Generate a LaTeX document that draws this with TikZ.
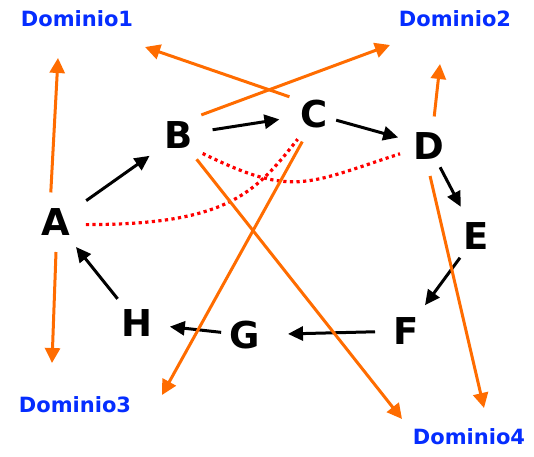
\documentclass[tikz,border=0pt]{standalone}
\usepackage{fontspec}
\setsansfont{DejaVu Sans}
\usepackage{tikz}
\usetikzlibrary{arrows.meta, calc}

\definecolor{domorange}{RGB}{255,108,0}
\definecolor{domblue}{RGB}{5,45,255}

\begin{document}
\begin{tikzpicture}[
    x=1pt, y=1pt,
    letter/.style = {circle, minimum size=60pt, inner sep=0pt, outer sep=0pt, font=\sffamily\bfseries\fontsize{37}{40}\selectfont},
    dom_label/.style = {inner sep=0pt, text=domblue, font=\sffamily\bfseries\fontsize{21}{24}\selectfont},
    arrow_k/.style = {-{Triangle[length=15pt, width=14pt]}, line width=3pt, black},
    arrow_o/.style = {-{Triangle[length=15pt, width=15pt]}, line width=3pt, domorange},
    link_r/.style = {line width=3.2pt, red, dash pattern=on 3.2pt off 3.4pt}
]
\useasboundingbox (0,0) rectangle (534,456);

% --- Nodi del ciclo ---
\node[letter] (A) at (56,234) {A};
\node[letter] (B) at (179,321) {B};
\node[letter] (C) at (314,342) {C};
\node[letter] (D) at (429,310) {D};
\node[letter] (E) at (476,220) {E};
\node[letter] (F) at (406,125) {F};
\node[letter] (G) at (245,121) {G};
\node[letter] (H) at (137,133) {H};

% --- Domini ---
\node[dom_label] (dom1) at (77,437) {Dominio1};
\node[dom_label] (dom2) at (455,437) {Dominio2};
\node[dom_label] (dom3) at (75,51) {Dominio3};
\node[dom_label] (dom4) at (469,19) {Dominio4};

% --- Archi neri ---
\draw[arrow_k, shorten <=7pt, shorten >=6pt] (A) -- (B);
\draw[arrow_k, shorten <=4pt, shorten >=5pt] (B) -- (C);
\draw[arrow_k, shorten <=-7pt, shorten >=2pt] (C) -- (D);
\draw[arrow_k, shorten <=-6pt, shorten >=3pt] (D) -- (E);
\draw[arrow_k, shorten <=-3pt, shorten >=2pt] (E) -- (F);
\draw[arrow_k, shorten <=1pt, shorten >=13pt] (F) -- (G);
\draw[arrow_k, shorten <=-6pt, shorten >=3pt] (G) -- (H);
\draw[arrow_k, shorten <=1pt, shorten >=2pt] (H) -- (A);

% --- Vincoli (rosso) ---
\draw[link_r] (A.-5) .. controls +(0:140) and +(232:70) .. (C.237);
\draw[link_r] (B.-38) .. controls +(-26:100) and +(198:100) .. (D.195);

% --- Frecce verso i domini ---
\draw[arrow_o] (A.100) -- ($(dom1)+(-19,-39)$);
\draw[arrow_o] (A.-90) -- ($(dom3)+(-23,42)$);
\draw[arrow_o] (C.145) -- ($(dom1)+(68,-28)$);
\draw[arrow_o] (B.42) -- ($(dom2)+(-65,-26)$);
\draw[arrow_o] (D.80) -- ($(dom2)+(-15,-45)$);
\draw[arrow_o] (C.247) -- ($(dom3)+(87,10)$);
\draw[arrow_o] (B.-54) -- ($(dom4)+(-67,18)$);
\draw[arrow_o] (D.-88) -- ($(dom4)+(15,29)$);

\end{tikzpicture}
\end{document}
